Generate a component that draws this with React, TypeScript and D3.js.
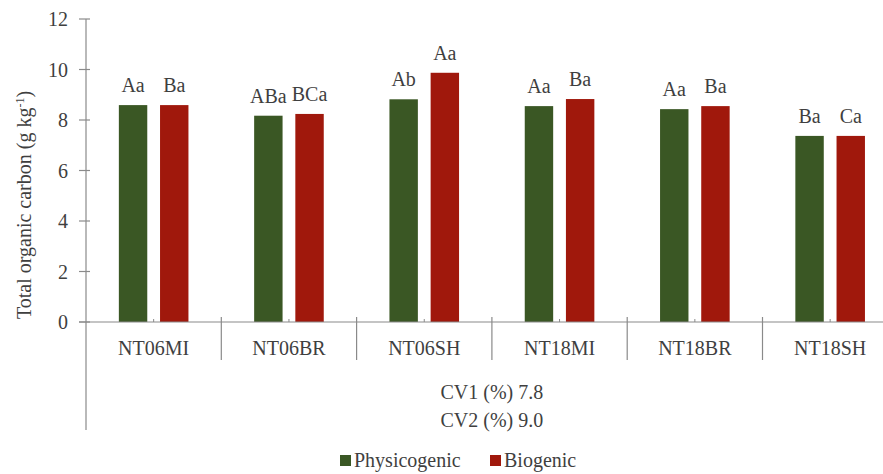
import React from "react";
import * as d3 from "d3";

const categories = ["NT06MI", "NT06BR", "NT06SH", "NT18MI", "NT18BR", "NT18SH"];
const seriesNames = ["Physicogenic", "Biogenic"];
const physicogenic = [8.59, 8.17, 8.82, 8.55, 8.43, 7.37];
const biogenic = [8.59, 8.24, 9.87, 8.83, 8.55, 7.37];
const physLabels = ["Aa", "ABa", "Ab", "Aa", "Aa", "Ba"];
const bioLabels = ["Ba", "BCa", "Aa", "Ba", "Ba", "Ca"];
const yTicks = [0, 2, 4, 6, 8, 10, 12];
const cvLines = ["CV1 (%) 7.8", "CV2 (%) 9.0"];
const colors = ["#3a5724", "#a0180c"];

const W = 883;
const H = 474;
const TXT = "#3f3f3f";
const AX = "#8a8a8a";
const textStyle: React.CSSProperties = { fontFamily: "Liberation Serif", fontSize: 20 };

export default function App() {
  const x0 = 86;
  const catStep = 135.3;
  const x = d3
    .scaleBand<string>()
    .domain(categories)
    .range([x0, x0 + catStep * categories.length])
    .padding(0);
  const inner = d3
    .scaleBand<string>()
    .domain(seriesNames)
    .range([catStep / 2 - 34.8, catStep / 2 + 34.8])
    .paddingInner(0.31)
    .paddingOuter(0);
  const y = d3.scaleLinear().domain([0, 12]).range([322, 19]);
  const series = [physicogenic, biogenic];
  const labels = [physLabels, bioLabels];
  const mid = x0 + (catStep * categories.length) / 2;
  const legItems = [
    { name: seriesNames[0], color: colors[0], x: 340 },
    { name: seriesNames[1], color: colors[1], x: 490 },
  ];

  return (
    <svg width={W} height={H} style={{ position: "absolute", left: 0, top: 0, background: "#fff" }}>
      {series.map((vals, si) =>
        vals.map((v, i) => {
          const bx = (x(categories[i]) as number) + (inner(seriesNames[si]) as number);
          return (
            <g key={`b${si}-${i}`}>
              <rect x={bx} y={y(v)} width={inner.bandwidth()} height={y(0) - y(v)} fill={colors[si]} />
              <text x={bx + inner.bandwidth() / 2} y={y(v) - 13} textAnchor="middle" fill={TXT} style={textStyle}>
                {labels[si][i]}
              </text>
            </g>
          );
        })
      )}

      <line x1={x0} x2={x0} y1={y(12)} y2={430} stroke={AX} strokeWidth={1.2} />
      {yTicks.map((t) => (
        <g key={`t${t}`}>
          <line x1={x0 - 7} x2={x0 + 4} y1={y(t)} y2={y(t)} stroke={AX} strokeWidth={1.2} />
          <text x={x0 - 18} y={y(t)} dy="0.35em" textAnchor="end" fill={TXT} style={textStyle}>
            {t}
          </text>
        </g>
      ))}

      <line x1={x0 - 7} x2={W} y1={y(0)} y2={y(0)} stroke={AX} strokeWidth={1.2} />
      {categories.map((c, i) => {
        const cx = (x(c) as number) + x.bandwidth() / 2;
        return (
          <g key={c}>
            {i > 0 && (
              <line x1={x(c)} x2={x(c)} y1={y(0) - 5} y2={360} stroke={AX} strokeWidth={1.2} />
            )}
            <line x1={cx} x2={cx} y1={y(0) - 3} y2={y(0)} stroke={AX} strokeWidth={1} />
            <text x={cx} y={348} dy="0.35em" textAnchor="middle" fill={TXT} style={textStyle}>
              {c}
            </text>
          </g>
        );
      })}

      {cvLines.map((t, i) => (
        <text key={t} x={mid} y={392 + i * 28} dy="0.35em" textAnchor="middle" fill={TXT} style={textStyle}>
          {t}
        </text>
      ))}

      <text transform="translate(31,205) rotate(-90)" textAnchor="middle" fill={TXT} style={textStyle}>
        <tspan>Total organic carbon  (g kg</tspan>
        <tspan baselineShift="super" style={{ fontSize: 12 }}>-1</tspan>
        <tspan>)</tspan>
      </text>

      {legItems.map((it) => (
        <g key={it.name}>
          <rect x={it.x} y={455} width={11} height={11} fill={it.color} />
          <text x={it.x + 14} y={460} dy="0.35em" fill={TXT} style={textStyle}>
            {it.name}
          </text>
        </g>
      ))}
    </svg>
  );
}
